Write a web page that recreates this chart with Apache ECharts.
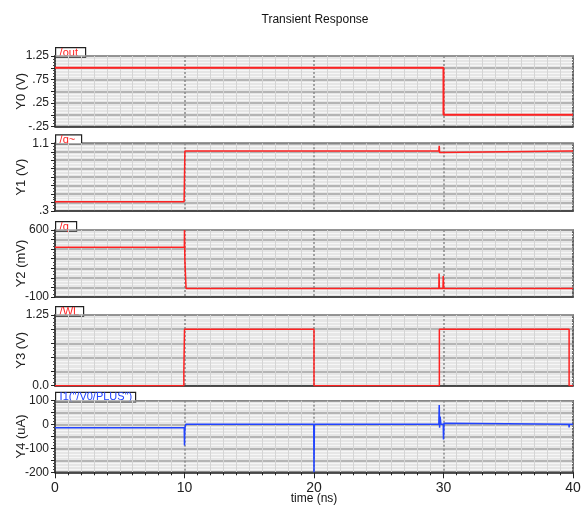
<!DOCTYPE html>
<html>
<head>
<meta charset="utf-8">
<script src="https://cdn.jsdelivr.net/npm/echarts@6/dist/echarts.min.js"></script>
<style>
  html, body { margin: 0; padding: 0; background: #fff; }
  #chart { width: 588px; height: 511px; }
</style>
</head>
<body>
<div id="chart"></div>
<script>
// signal data (time in ns)
const outT = [0, 30, 30, 40];
const outV = [1.0, 1.0, 0.0, 0.0];

const qbT = [0, 9.97, 10.03, 29.64, 29.67, 29.7, 29.74, 29.8, 39.68, 39.7, 39.72, 40];
const qbV = [0.41, 0.41, 1.01, 1.01, 1.07, 0.99, 1.01, 1.01, 1.01, 0.99, 1.01, 1.01];

const qT = [0, 9.99, 10.0, 10.03, 10.1, 10.12, 29.64, 29.66, 29.68, 29.72, 29.96, 29.98, 30.02, 30.05, 39.68, 39.7, 39.72, 40];
const qV = [420, 420, 600, 280, 280, -10, -10, 145, -10, -10, -10, 120, -10, -10, -10, -25, -10, -10];

const wlT = [0, 9.95, 9.95, 10.0, 10.0, 20, 20, 29.68, 29.68, 39.7, 39.7, 40];
const wlV = [0, 0, 0.25, 0.25, 1.0, 1.0, 0, 0, 1.0, 1.0, 0, 0];

const iT = [0, 9.98, 10.0, 10.02, 10.05, 10.1, 19.98, 20.0, 20.03, 29.64, 29.67, 29.7, 29.74, 29.8, 29.98, 30.0, 30.04, 30.1, 39.68, 39.7, 39.72, 40];
const iV = [-13, -13, -88, -30, -10, 1, 1, -200, 1, 1, 82, -13, 33, 1, 1, -62, 5, 1, 1, -12, 1, 1];

// axis ranges and labels
const yName = ['Y0 (V)', 'Y1 (V)', 'Y2 (mV)', 'Y3 (V)', 'Y4 (uA)'];
const yMin = [-0.25, 0.3, -100, 0, -200];
const yMax = [1.25, 1.1, 600, 1.25, 100];
const yStep = [0.25, 0.1, 100, 0.25, 50];
const yLabels = [
  { '1.25': '1.25', '0.75': '.75', '0.25': '.25', '-0.25': '-.25' },
  { '1.1': '1.1', '0.3': '.3' },
  { '600': '600', '-100': '-100' },
  { '1.25': '1.25', '0': '0.0' },
  { '100': '100', '0': '0', '-100': '-100', '-200': '-200' }
];
const tabNames = ['/out', '/q~', '/q', '/WL', 'I1("/V0/PLUS")'];
const xTicks = [0, 10, 20, 30, 40];

const RED = '#ff2222';
const BLUE = '#2244ff';
const colors = [RED, RED, RED, RED, BLUE];
const signals = [[outT, outV], [qbT, qbV], [qT, qV], [wlT, wlV], [iT, iV]];

// layout of the five stacked panels
const panels = [
  { top: 56, height: 70.5, tabW: 30, minor: 4 },
  { top: 143.3, height: 67.7, tabW: 26, minor: 3 },
  { top: 230, height: 67, tabW: 21, minor: 3 },
  { top: 315, height: 70.7, tabW: 28, minor: 4 },
  { top: 400.7, height: 71.6, tabW: 80, minor: 4 }
];
const LEFT = 55, RIGHT = 15;

const chart = echarts.init(document.getElementById('chart'));

const grid = [], xAxis = [], yAxis = [], series = [], graphic = [];

panels.forEach((p, i) => {
  const last = i === panels.length - 1;
  grid.push({
    left: LEFT, right: RIGHT, top: p.top, height: p.height,
    containLabel: false, outerBoundsMode: 'none',
    show: true, backgroundColor: '#e6e6e6',
    borderColor: '#333', borderWidth: 1.5
  });
  xAxis.push({
    type: 'value', gridIndex: i, min: 0, max: 40, interval: 10,
    name: last ? 'time (ns)' : '',
    nameLocation: 'middle', nameGap: 20, nameMoveOverlap: false,
    nameTextStyle: { fontFamily: 'Liberation Sans', fontSize: 12, color: '#111' },
    axisLine: { show: true, onZero: false, lineStyle: { color: '#333', width: 1.5 } },
    axisTick: { show: last, length: 6, lineStyle: { color: '#222' } },
    minorTick: { show: last, splitNumber: 10, length: 3, lineStyle: { color: '#222' } },
    axisLabel: {
      show: last, margin: 9, color: '#222', fontFamily: 'Liberation Sans', fontSize: 14,
      formatter: v => xTicks.includes(v) ? String(v) : ''
    },
    splitLine: { show: true, lineStyle: { color: '#888', type: [2, 2], width: 1.5 } },
    minorSplitLine: { show: true, lineStyle: { color: '#d4d4d4', width: 1 } }
  });
  const labels = yLabels[i];
  yAxis.push({
    type: 'value', gridIndex: i, min: yMin[i], max: yMax[i], interval: yStep[i],
    name: yName[i], nameLocation: 'middle', nameGap: 27, nameMoveOverlap: false,
    nameTextStyle: { fontFamily: 'Liberation Sans', fontSize: 13, color: '#222' },
    axisLine: { show: true, onZero: false, lineStyle: { color: '#333', width: 1.5 } },
    axisTick: { show: true, length: 4, lineStyle: { color: '#222' } },
    minorTick: { show: true, splitNumber: p.minor, length: 2, lineStyle: { color: '#444' } },
    axisLabel: {
      margin: 6, color: '#222', fontFamily: 'Liberation Sans', fontSize: 12,
      showMinLabel: true, showMaxLabel: true,
      formatter: v => {
        const key = String(Math.round(v * 1000) / 1000);
        return labels[key] || '';
      }
    },
    splitLine: { show: true, lineStyle: { color: '#a4a4a4', width: 1.5 } },
    minorSplitLine: { show: true, lineStyle: { color: '#f6f6f6', width: 1 } }
  });
  const [ts, vs] = signals[i];
  series.push({
    name: tabNames[i], type: 'line', xAxisIndex: i, yAxisIndex: i,
    data: ts.map((t, k) => [t, vs[k]]),
    showSymbol: false, animation: false,
    lineStyle: { color: colors[i], width: i === 0 ? 2 : 1.5 },
    z: 5
  });
  // signal name tab on top of each panel
  graphic.push({
    type: 'group', left: LEFT, top: p.top - 9,
    children: [
      { type: 'rect', shape: { x: 0, y: 0, width: p.tabW, height: 9.5 },
        style: { fill: '#fff', stroke: '#222', lineWidth: 1.2 } },
      { type: 'text', x: 4, y: -0.5,
        style: { text: tabNames[i], fill: colors[i], font: '11px "Liberation Sans"' } }
    ]
  });
});

chart.setOption({
  animation: false,
  title: {
    text: 'Transient Response', left: 310, top: 9, textAlign: 'center',
    textStyle: { fontFamily: 'Liberation Sans', fontSize: 12, fontWeight: 'normal', color: '#111' }
  },
  grid: grid,
  xAxis: xAxis,
  yAxis: yAxis,
  series: series,
  graphic: graphic
});
</script>
</body>
</html>
